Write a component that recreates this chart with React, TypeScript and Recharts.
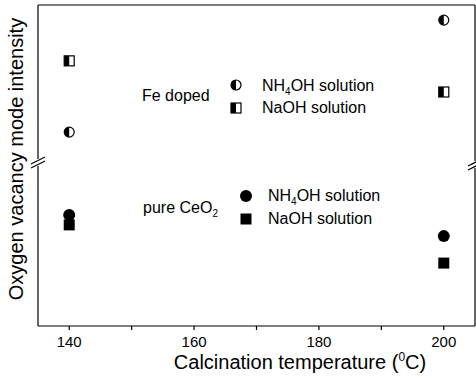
import { ScatterChart, Scatter, XAxis, YAxis } from 'recharts';

const temps = [140, 200];
const feNH4OH = [60.4, 95.3];
const feNaOH = [82.6, 72.9];
const pureNH4OH = [34.6, 28.0];
const pureNaOH = [31.5, 19.6];
const xTicks = [140, 150, 160, 170, 180, 190, 200];
const xLabels = [140, 160, 180, 200];

const toPoints = (vals: number[]) => temps.map((t, i) => ({ x: t, y: vals[i] }));

const FONT = '"Liberation Sans", Arial, sans-serif';

function HalfCircle({ cx, cy }: any) {
  const r = 5;
  return (
    <g>
      <circle cx={cx} cy={cy} r={r} fill="#fff" stroke="#000" strokeWidth={1.2} />
      <path d={`M${cx},${cy - r} A${r},${r} 0 0 0 ${cx},${cy + r} Z`} fill="#000" />
    </g>
  );
}

function HalfSquare({ cx, cy }: any) {
  const s = 5;
  return (
    <g>
      <rect x={cx - s} y={cy - s} width={2 * s} height={2 * s} fill="#fff" stroke="#000" strokeWidth={1.2} />
      <rect x={cx - s} y={cy - s} width={s} height={2 * s} fill="#000" />
    </g>
  );
}

function Dot({ cx, cy }: any) {
  return <circle cx={cx} cy={cy} r={6} fill="#000" />;
}

function Square({ cx, cy }: any) {
  return <rect x={cx - 5.5} y={cy - 5.5} width={11} height={11} fill="#000" />;
}

function Break({ x, y }: { x: number; y: number }) {
  return (
    <g>
      <rect x={x - 3} y={y - 4} width={6} height={7} fill="#fff" />
      <line x1={x - 7} y1={y + 5} x2={x + 7} y2={y - 2} stroke="#000" strokeWidth={1.2} />
      <line x1={x - 7} y1={y + 1} x2={x + 7} y2={y - 6} stroke="#000" strokeWidth={1.2} />
    </g>
  );
}

export default function App() {
  return (
    <div style={{ position: 'absolute', left: 0, top: 0, width: 476, height: 378, background: '#fff' }}>
      <ScatterChart width={476} height={378} margin={{ top: 0, right: 0, left: 0, bottom: 0 }}>
        <XAxis
          xAxisId="b"
          type="number"
          dataKey="x"
          domain={[135, 205]}
          ticks={xTicks}
          interval={0}
          tickFormatter={(v) => (xLabels.includes(v) ? String(v) : '')}
          height={52}
          tickSize={4}
          tickMargin={6}
          stroke="#000"
          strokeWidth={1.2}
          tick={{ fill: '#000', fontSize: 15, fontFamily: FONT }}
          allowDataOverflow
        />
        <XAxis xAxisId="t" orientation="top" type="number" domain={[135, 205]} height={5} tick={false} tickLine={false} stroke="#000" strokeWidth={1.2} />
        <YAxis yAxisId="l" type="number" dataKey="y" domain={[0, 100]} width={38} tick={false} tickLine={false} stroke="#000" strokeWidth={1.2} />
        <YAxis yAxisId="r" orientation="right" type="number" domain={[0, 100]} width={1} tick={false} tickLine={false} stroke="#000" strokeWidth={1.2} />
        <Scatter xAxisId="b" yAxisId="l" data={toPoints(pureNaOH)} shape={<Square />} isAnimationActive={false} />
        <Scatter xAxisId="b" yAxisId="l" data={toPoints(pureNH4OH)} shape={<Dot />} isAnimationActive={false} />
        <Scatter xAxisId="b" yAxisId="l" data={toPoints(feNaOH)} shape={<HalfSquare />} isAnimationActive={false} />
        <Scatter xAxisId="b" yAxisId="l" data={toPoints(feNH4OH)} shape={<HalfCircle />} isAnimationActive={false} />
      </ScatterChart>
      <svg
        width={476}
        height={378}
        style={{ position: 'absolute', left: 0, top: 0, pointerEvents: 'none' }}
        fontFamily={FONT}
      >
        <Break x={38} y={163} />
        <Break x={475} y={165} />
        <text x={142} y={101} fontSize={16}>Fe doped</text>
        <HalfCircle cx={236} cy={85} />
        <HalfSquare cx={236} cy={108} />
        <text x={262} y={91} fontSize={16}>
          NH<tspan fontSize={10} dy={4}>4</tspan>
          <tspan dy={-4}>OH solution</tspan>
        </text>
        <text x={262} y={113} fontSize={16}>NaOH solution</text>

        <text x={143} y={213} fontSize={16}>
          pure CeO<tspan fontSize={10} dy={4}>2</tspan>
        </text>
        <Dot cx={246} cy={196} />
        <Square cx={246} cy={219} />
        <text x={268} y={201} fontSize={16}>
          NH<tspan fontSize={10} dy={4}>4</tspan>
          <tspan dy={-4}>OH solution</tspan>
        </text>
        <text x={268} y={224} fontSize={16}>NaOH solution</text>

        <text x={300} y={369} fontSize={20} textAnchor="middle">
          Calcination temperature (<tspan fontSize={12} dy={-8}>0</tspan>
          <tspan dy={8}>C)</tspan>
        </text>
        <text x={23} y={159} fontSize={20} textAnchor="middle" transform="rotate(-90 23 159)">
          Oxygen vacancy mode intensity
        </text>
      </svg>
    </div>
  );
}
